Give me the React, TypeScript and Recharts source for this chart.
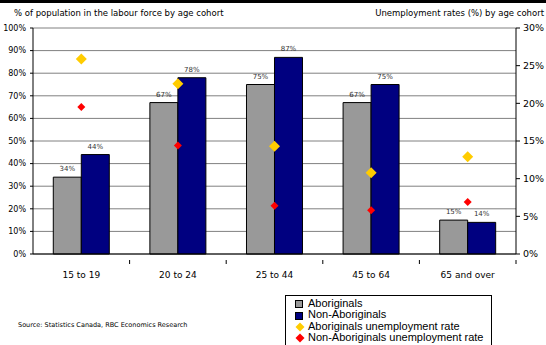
import React from 'react';
import {
  ComposedChart,
  Bar,
  Scatter,
  XAxis,
  YAxis,
  CartesianGrid,
  LabelList,
} from 'recharts';

// categories and series
const cohorts = ['15 to 19', '20 to 24', '25 to 44', '45 to 64', '65 and over'];
const aboriginals = [34, 67, 75, 67, 15];
const nonAboriginals = [44, 78, 87, 75, 14];
const aboriginalUnemp = [25.9, 22.6, 14.3, 10.8, 12.9];
const nonAboriginalUnemp = [19.5, 14.4, 6.4, 5.8, 6.9];

const leftTicks = [0, 10, 20, 30, 40, 50, 60, 70, 80, 90, 100];
const rightTicks = [0, 5, 10, 15, 20, 25, 30];

const data = cohorts.map((c, i) => ({
  cohort: c,
  abo: aboriginals[i],
  non: nonAboriginals[i],
  aboU: aboriginalUnemp[i],
  nonU: nonAboriginalUnemp[i],
}));

const W = 546;
const H = 345;
const M = { top: 28, right: 0, bottom: 71, left: 0 };
const LEFT_W = 33;
const RIGHT_W = 30;
const band = (W - LEFT_W - RIGHT_W) / cohorts.length;

const FONT = '"DejaVu Sans", Verdana, sans-serif';

const diamond = (size: number, color: string) => (props: any) => {
  const { cx, cy } = props;
  if (cx == null || cy == null) return null;
  const r = size / 2;
  return (
    <polygon
      points={`${cx},${cy - r} ${cx + r},${cy} ${cx},${cy + r} ${cx - r},${cy}`}
      fill={color}
    />
  );
};

const XTick = (props: any) => {
  const { x, y, payload } = props;
  return (
    <g>
      <line x1={x + band / 2} x2={x + band / 2} y1={y - 2} y2={y + 2} stroke="#000" />
      <text x={x} y={y + 16} textAnchor="middle" fontSize={9} fontFamily={FONT} fill="#000">
        {payload.value}
      </text>
    </g>
  );
};

const legendItems = [
  { label: 'Aboriginals', kind: 'square', color: '#999999' },
  { label: 'Non-Aboriginals', kind: 'square', color: '#000080' },
  { label: 'Aboriginals unemployment rate', kind: 'diamond', color: '#FFCC00' },
  { label: 'Non-Aboriginals unemployment rate', kind: 'diamond', color: '#FF0000' },
];

export default function App() {
  return (
    <div style={{ position: 'fixed', left: 0, top: 0, width: W, height: H, background: '#fff' }}>
      <div style={{ position: 'absolute', left: 0, top: 0, width: W, height: 3, background: '#000' }} />
      <div
        style={{
          position: 'absolute',
          left: 14,
          top: 8,
          fontFamily: FONT,
          fontSize: 8.5,
          color: '#000',
          whiteSpace: 'nowrap',
        }}
      >
        % of population in the labour force by age cohort
      </div>
      <div
        style={{
          position: 'absolute',
          right: 2,
          top: 8,
          fontFamily: FONT,
          fontSize: 8.5,
          color: '#000',
          whiteSpace: 'nowrap',
        }}
      >
        Unemployment rates (%) by age cohort
      </div>
      <ComposedChart width={W} height={H} data={data} margin={M} barCategoryGap="21%" barGap={0}>
        <CartesianGrid yAxisId="left" vertical={false} stroke="#808080" horizontalValues={leftTicks} />
        <XAxis
          dataKey="cohort"
          axisLine={{ stroke: '#000' }}
          tickLine={false}
          tick={<XTick />}
          height={20}
          interval={0}
        />
        <YAxis
          yAxisId="left"
          domain={[0, 100]}
          ticks={leftTicks}
          tickFormatter={(v) => `${v}%`}
          width={LEFT_W}
          axisLine={{ stroke: '#000' }}
          tickLine={{ stroke: '#000' }}
          tickSize={3}
          tickMargin={4}
          tick={{ fontSize: 8, fontFamily: FONT, fill: '#000' }}
          interval={0}
        />
        <YAxis
          yAxisId="right"
          orientation="right"
          domain={[0, 30]}
          ticks={rightTicks}
          tickFormatter={(v) => `${v}%`}
          width={RIGHT_W}
          axisLine={{ stroke: '#000' }}
          tickLine={{ stroke: '#000' }}
          tickSize={4}
          tickMargin={3}
          tick={{ fontSize: 9.5, fontFamily: FONT, fill: '#000' }}
          interval={0}
        />
        <Bar yAxisId="left" dataKey="abo" fill="#999999" stroke="#000" strokeWidth={1} isAnimationActive={false}>
          <LabelList
            dataKey="abo"
            position="top"
            formatter={(v: any) => `${v}%`}
            style={{ fontSize: 7, fontFamily: FONT, fill: '#333' }}
            offset={6}
          />
        </Bar>
        <Bar yAxisId="left" dataKey="non" fill="#000080" stroke="#000" strokeWidth={1} isAnimationActive={false}>
          <LabelList
            dataKey="non"
            position="top"
            formatter={(v: any) => `${v}%`}
            style={{ fontSize: 7, fontFamily: FONT, fill: '#333' }}
            offset={6}
          />
        </Bar>
        <Scatter yAxisId="right" dataKey="aboU" shape={diamond(11, '#FFCC00')} isAnimationActive={false} />
        <Scatter yAxisId="right" dataKey="nonU" shape={diamond(8, '#FF0000')} isAnimationActive={false} />
      </ComposedChart>
      <div
        style={{
          position: 'absolute',
          left: 18,
          top: 321,
          fontFamily: FONT,
          fontSize: 6.5,
          color: '#000',
          whiteSpace: 'nowrap',
        }}
      >
        Source: Statistics Canada, RBC Economics Research
      </div>
      <div
        style={{
          position: 'absolute',
          left: 285,
          top: 295,
          width: 205,
          height: 47,
          border: '1px solid #000',
          boxSizing: 'content-box',
          fontFamily: '"Liberation Sans", Arial, sans-serif',
          fontSize: 11,
          lineHeight: '11.4px',
          paddingTop: 2,
        }}
      >
        {legendItems.map((it) => (
          <div key={it.label} style={{ display: 'flex', alignItems: 'center', whiteSpace: 'nowrap' }}>
            <svg width={22} height={11} style={{ flex: 'none' }}>
              {it.kind === 'square' ? (
                <rect x={9.5} y={2.5} width={7} height={7} fill={it.color} stroke="#000" />
              ) : (
                <polygon points="14,1.5 18.5,6 14,10.5 9.5,6" fill={it.color} />
              )}
            </svg>
            <span>{it.label}</span>
          </div>
        ))}
      </div>
    </div>
  );
}
